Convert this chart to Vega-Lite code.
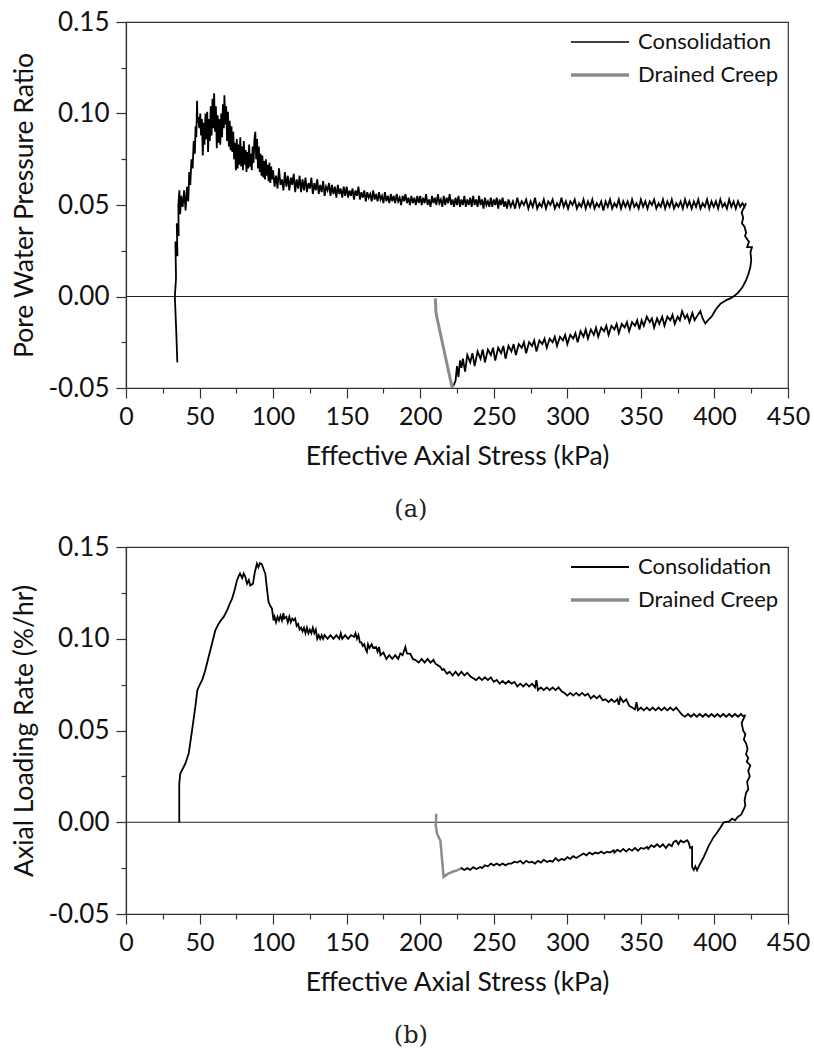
{
  "$schema": "https://vega.github.io/schema/vega-lite/v6.json",
  "padding": {"left": 11, "top": 8, "right": 0, "bottom": 0},
  "spacing": 10,
  "config": {
    "font": "Lato",
    "view": {"stroke": "#333", "strokeWidth": 1.2},
    "axis": {"grid": false, "domainColor": "#333", "tickColor": "#333", "domainWidth": 1.2, "tickWidth": 1.2, "labelColor": "#111", "titleColor": "#111", "labelFont": "Lato", "titleFont": "Lato", "titleFontWeight": "normal", "labelFlush": false, "labelOverlap": false},
    "legend": {"labelFont": "Lato", "labelFontSize": 22, "labelColor": "#111", "symbolType": "stroke", "symbolSize": 3364, "labelOffset": 27, "rowPadding": 11, "padding": 0, "orient": "top-right", "offset": 9},
    "title": {"font": "DejaVu Serif", "fontSize": 24, "fontWeight": "normal", "color": "#222", "orient": "bottom", "anchor": "middle", "frame": "bounds", "offset": 28}
  },
  "resolve": {"scale": {"color": "independent"}},
  "datasets": {
    "zero": [{"y": 0}],
    "a_cons": [
      {"x":34.9,"y":-0.036},{"x":34.2,"y":-0.02},{"x":33.5,"y":-0.006},{"x":33.2,"y":0.0},{"x":34,"y":0.01},{"x":33.6,"y":0.03},{"x":35,"y":0.022},{"x":34.5,"y":0.04},{"x":35.8,"y":0.033},{"x":35.6,"y":0.05},{"x":36.3,"y":0.058},{"x":36.8,"y":0.045},{"x":37.5,"y":0.055},{"x":38.5,"y":0.049},{"x":39.5,"y":0.058},{"x":40.5,"y":0.047},{"x":41.5,"y":0.06},{"x":42.3,"y":0.052},{"x":43,"y":0.068},{"x":43.7,"y":0.061},{"x":44.5,"y":0.075},{"x":45.3,"y":0.07},{"x":46,"y":0.085},{"x":46.8,"y":0.078},{"x":47.3,"y":0.093},{"x":47.8,"y":0.087},{"x":48.3,"y":0.107},{"x":48.6,"y":0.095},{"x":49.2,"y":0.098},{"x":49.8,"y":0.092},{"x":50.5,"y":0.1},{"x":51,"y":0.088},{"x":51.6,"y":0.097},{"x":52.2,"y":0.077},{"x":52.8,"y":0.095},{"x":53.4,"y":0.083},{"x":54,"y":0.1},{"x":54.6,"y":0.086},{"x":55.2,"y":0.101},{"x":55.8,"y":0.079},{"x":56.4,"y":0.097},{"x":57,"y":0.085},{"x":57.6,"y":0.104},{"x":58.2,"y":0.088},{"x":58.8,"y":0.108},{"x":59.4,"y":0.092},{"x":59.9,"y":0.111},{"x":60.5,"y":0.09},{"x":61.1,"y":0.104},{"x":61.7,"y":0.081},{"x":62.3,"y":0.099},{"x":62.9,"y":0.084},{"x":63.5,"y":0.097},{"x":64.1,"y":0.083},{"x":64.7,"y":0.1},{"x":65.3,"y":0.087},{"x":65.9,"y":0.105},{"x":66.5,"y":0.092},{"x":66.9,"y":0.11},{"x":67.5,"y":0.094},{"x":68.1,"y":0.104},{"x":68.7,"y":0.085},{"x":69.3,"y":0.101},{"x":69.9,"y":0.082},{"x":70.5,"y":0.096},{"x":71.1,"y":0.08},{"x":71.7,"y":0.093},{"x":72.3,"y":0.079},{"x":72.9,"y":0.09},{"x":73.5,"y":0.075},{"x":74.1,"y":0.084},{"x":74.7,"y":0.069},{"x":75.3,"y":0.086},{"x":75.9,"y":0.07},{"x":76.5,"y":0.083},{"x":77.1,"y":0.072},{"x":77.7,"y":0.087},{"x":78.3,"y":0.071},{"x":78.9,"y":0.082},{"x":79.5,"y":0.069},{"x":80.1,"y":0.085},{"x":80.7,"y":0.072},{"x":81.3,"y":0.08},{"x":81.9,"y":0.068},{"x":82.5,"y":0.079},{"x":83.1,"y":0.07},{"x":83.7,"y":0.083},{"x":84.3,"y":0.071},{"x":84.9,"y":0.078},{"x":85.5,"y":0.069},{"x":86.1,"y":0.082},{"x":86.7,"y":0.073},{"x":87.3,"y":0.086},{"x":87.9,"y":0.09},{"x":88.5,"y":0.075},{"x":89.1,"y":0.086},{"x":89.7,"y":0.07},{"x":90.3,"y":0.082},{"x":90.9,"y":0.068},{"x":91.5,"y":0.078},{"x":92.1,"y":0.066},{"x":92.7,"y":0.077},{"x":93.3,"y":0.065},{"x":93.9,"y":0.074},{"x":94.5,"y":0.064},{"x":95.1,"y":0.075},{"x":95.7,"y":0.066},{"x":96.3,"y":0.072},{"x":96.9,"y":0.063},{"x":97.5,"y":0.073},{"x":98.1,"y":0.062},{"x":98.7,"y":0.071},{"x":99.3,"y":0.064},
      {"x":100,"y":0.069},{"x":101,"y":0.06},{"x":102,"y":0.066},{"x":103,"y":0.059},{"x":104,"y":0.07},{"x":105,"y":0.061},{"x":106,"y":0.064},{"x":107,"y":0.058},{"x":108,"y":0.068},{"x":109,"y":0.06},{"x":110,"y":0.066},{"x":111,"y":0.058},{"x":112,"y":0.065},{"x":113,"y":0.061},{"x":114,"y":0.067},{"x":115,"y":0.057},{"x":116,"y":0.064},{"x":117,"y":0.059},{"x":118,"y":0.066},{"x":119,"y":0.057},
      {"x":120,"y":0.064},{"x":121,"y":0.058},{"x":122,"y":0.065},{"x":123,"y":0.057},{"x":124,"y":0.062},{"x":125,"y":0.059},{"x":126,"y":0.065},{"x":127,"y":0.056},{"x":128,"y":0.062},{"x":129,"y":0.058},{"x":130,"y":0.064},{"x":131,"y":0.056},{"x":132,"y":0.061},{"x":133,"y":0.057},{"x":134,"y":0.063},{"x":135,"y":0.055},{"x":136,"y":0.06},{"x":137,"y":0.058},{"x":138,"y":0.062},{"x":139,"y":0.055},{"x":140,"y":0.061},{"x":141,"y":0.056},{"x":142,"y":0.06},{"x":143,"y":0.054},{"x":144,"y":0.061},{"x":145,"y":0.056},{"x":146,"y":0.059},{"x":147,"y":0.054},{"x":148,"y":0.06},{"x":149,"y":0.055},
      {"x":150,"y":0.06},{"x":151,"y":0.054},{"x":152,"y":0.058},{"x":153,"y":0.055},{"x":154,"y":0.059},{"x":155,"y":0.053},{"x":156,"y":0.058},{"x":157,"y":0.055},{"x":158,"y":0.06},{"x":159,"y":0.053},{"x":160,"y":0.057},{"x":161,"y":0.054},{"x":162,"y":0.058},{"x":163,"y":0.052},{"x":164,"y":0.057},{"x":165,"y":0.054},{"x":166,"y":0.056},{"x":167,"y":0.052},{"x":168,"y":0.058},{"x":169,"y":0.053},{"x":170,"y":0.056},{"x":171,"y":0.052},{"x":172,"y":0.057},{"x":173,"y":0.053},{"x":174,"y":0.055},{"x":175,"y":0.051},{"x":176,"y":0.057},{"x":177,"y":0.052},{"x":178,"y":0.055},{"x":179,"y":0.051},{"x":180,"y":0.056},{"x":181,"y":0.052},{"x":182,"y":0.055},{"x":183,"y":0.051},{"x":184,"y":0.056},{"x":185,"y":0.052},{"x":186,"y":0.054},{"x":187,"y":0.05},{"x":188,"y":0.055},{"x":189,"y":0.052},{"x":190,"y":0.056},{"x":191,"y":0.051},{"x":192,"y":0.054},{"x":193,"y":0.05},{"x":194,"y":0.055},{"x":195,"y":0.051},{"x":196,"y":0.054},{"x":197,"y":0.05},{"x":198,"y":0.055},{"x":199,"y":0.051},
      {"x":200,"y":0.055},{"x":201,"y":0.05},{"x":202,"y":0.054},{"x":203,"y":0.051},{"x":204,"y":0.056},{"x":205,"y":0.05},{"x":206,"y":0.053},{"x":207,"y":0.049},{"x":208,"y":0.055},{"x":209,"y":0.051},{"x":210,"y":0.054},{"x":211,"y":0.05},{"x":212,"y":0.056},{"x":213,"y":0.051},{"x":214,"y":0.053},{"x":215,"y":0.049},{"x":216,"y":0.055},{"x":217,"y":0.05},{"x":218,"y":0.054},{"x":219,"y":0.051},{"x":220,"y":0.056},{"x":221,"y":0.05},{"x":222,"y":0.053},{"x":223,"y":0.049},{"x":224,"y":0.054},{"x":225,"y":0.05},{"x":226,"y":0.055},{"x":227,"y":0.049},{"x":228,"y":0.053},{"x":229,"y":0.05},{"x":230,"y":0.055},{"x":231,"y":0.049},{"x":232,"y":0.053},{"x":233,"y":0.05},{"x":234,"y":0.054},{"x":235,"y":0.049},{"x":236,"y":0.055},{"x":237,"y":0.05},{"x":238,"y":0.053},{"x":239,"y":0.049},{"x":240,"y":0.055},{"x":241,"y":0.05},{"x":242,"y":0.053},{"x":243,"y":0.048},{"x":244,"y":0.054},{"x":245,"y":0.05},{"x":246,"y":0.052},{"x":247,"y":0.049},{"x":248,"y":0.054},{"x":249,"y":0.049},{"x":250,"y":0.053},{"x":251,"y":0.05},{"x":252,"y":0.054},{"x":253,"y":0.048},{"x":254,"y":0.053},{"x":255,"y":0.05},{"x":256,"y":0.054},{"x":257,"y":0.049},{"x":258,"y":0.052},{"x":259,"y":0.048},
      {"x":260,"y":0.053},{"x":261.5,"y":0.049},{"x":263,"y":0.052},{"x":264.5,"y":0.048},{"x":266,"y":0.054},{"x":267.5,"y":0.049},{"x":269,"y":0.052},{"x":270.5,"y":0.05},{"x":272,"y":0.053},{"x":273.5,"y":0.048},{"x":275,"y":0.052},{"x":276.5,"y":0.049},{"x":278,"y":0.054},{"x":279.5,"y":0.048},{"x":281,"y":0.051},{"x":282.5,"y":0.049},{"x":284,"y":0.053},{"x":285.5,"y":0.048},{"x":287,"y":0.052},{"x":288.5,"y":0.05},{"x":290,"y":0.053},{"x":291.5,"y":0.048},{"x":293,"y":0.051},{"x":294.5,"y":0.049},{"x":296,"y":0.054},{"x":297.5,"y":0.049},{"x":299,"y":0.052},{"x":300.5,"y":0.048},{"x":302,"y":0.052},{"x":303.5,"y":0.05},{"x":305,"y":0.053},{"x":306.5,"y":0.048},{"x":308,"y":0.051},{"x":309.5,"y":0.049},{"x":311,"y":0.053},{"x":312.5,"y":0.048},{"x":314,"y":0.052},{"x":315.5,"y":0.049},{"x":317,"y":0.053},{"x":318.5,"y":0.048},{"x":320,"y":0.051},{"x":321.5,"y":0.049},{"x":323,"y":0.052},{"x":324.5,"y":0.047},{"x":326,"y":0.052},{"x":327.5,"y":0.049},{"x":329,"y":0.053},{"x":330.5,"y":0.048},{"x":332,"y":0.051},{"x":333.5,"y":0.049},{"x":335,"y":0.053},{"x":336.5,"y":0.048},{"x":338,"y":0.052},{"x":339.5,"y":0.049},{"x":341,"y":0.052},{"x":342.5,"y":0.048},{"x":344,"y":0.053},{"x":345.5,"y":0.049},{"x":347,"y":0.051},{"x":348.5,"y":0.048},{"x":350,"y":0.053},{"x":351.5,"y":0.049},{"x":353,"y":0.052},{"x":354.5,"y":0.048},{"x":356,"y":0.052},{"x":357.5,"y":0.05},{"x":359,"y":0.053},{"x":360.5,"y":0.048},{"x":362,"y":0.051},{"x":363.5,"y":0.049},{"x":365,"y":0.053},{"x":366.5,"y":0.048},{"x":368,"y":0.052},{"x":369.5,"y":0.049},{"x":371,"y":0.053},{"x":372.5,"y":0.048},{"x":374,"y":0.051},{"x":375.5,"y":0.049},{"x":377,"y":0.052},{"x":378.5,"y":0.048},{"x":380,"y":0.053},{"x":381.5,"y":0.049},{"x":383,"y":0.052},{"x":384.5,"y":0.048},{"x":386,"y":0.052},{"x":387.5,"y":0.049},{"x":389,"y":0.053},{"x":390.5,"y":0.048},{"x":392,"y":0.051},{"x":393.5,"y":0.049},{"x":395,"y":0.053},{"x":396.5,"y":0.048},{"x":398,"y":0.052},{"x":399.5,"y":0.049},{"x":401,"y":0.052},{"x":402.5,"y":0.048},{"x":404,"y":0.053},{"x":405.5,"y":0.049},{"x":407,"y":0.051},{"x":408.5,"y":0.048},{"x":410,"y":0.053},{"x":411.5,"y":0.049},{"x":413,"y":0.052},{"x":414.5,"y":0.048},{"x":416,"y":0.052},{"x":417.5,"y":0.049},{"x":419,"y":0.051},{"x":420.5,"y":0.049},{"x":421.5,"y":0.051},
      {"x":418.5,"y":0.046},{"x":419.5,"y":0.043},{"x":418.7,"y":0.04},{"x":420.5,"y":0.038},{"x":421.5,"y":0.035},{"x":420.8,"y":0.033},{"x":422.5,"y":0.031},{"x":423.5,"y":0.03},{"x":422.2,"y":0.027},{"x":425.5,"y":0.027},{"x":424.5,"y":0.024},{"x":425,"y":0.02},{"x":424.4,"y":0.016},{"x":423,"y":0.012},{"x":421.5,"y":0.009},{"x":419,"y":0.005},{"x":416,"y":0.002},{"x":413,"y":0.0},{"x":410.8,"y":-0.001},{"x":408,"y":-0.002},{"x":404,"y":-0.004},{"x":401,"y":-0.007},{"x":398,"y":-0.011},{"x":395.5,"y":-0.013},{"x":393.8,"y":-0.0148},{"x":392,"y":-0.012},{"x":390.4,"y":-0.008},
      {"x":388,"y":-0.011},{"x":386.5,"y":-0.013},{"x":385,"y":-0.009},{"x":383,"y":-0.014},{"x":381.5,"y":-0.01},{"x":380,"y":-0.012},{"x":378,"y":-0.008},{"x":376.5,"y":-0.013},{"x":375,"y":-0.011},{"x":373,"y":-0.015},{"x":371.5,"y":-0.01},{"x":370,"y":-0.013},{"x":368,"y":-0.011},{"x":366,"y":-0.016},{"x":364.5,"y":-0.011},{"x":362.5,"y":-0.015},{"x":361,"y":-0.012},{"x":359,"y":-0.017},{"x":357.5,"y":-0.012},{"x":356,"y":-0.014},{"x":354,"y":-0.011},{"x":352,"y":-0.016},{"x":350.5,"y":-0.013},{"x":349,"y":-0.018},{"x":347.5,"y":-0.013},{"x":346,"y":-0.016},{"x":344,"y":-0.014},{"x":342,"y":-0.019},{"x":340.5,"y":-0.014},{"x":339,"y":-0.017},{"x":337,"y":-0.015},{"x":335,"y":-0.02},{"x":333.5,"y":-0.015},{"x":332,"y":-0.018},{"x":330,"y":-0.016},{"x":328,"y":-0.021},{"x":326.5,"y":-0.016},{"x":325,"y":-0.019},{"x":323,"y":-0.017},{"x":321,"y":-0.022},{"x":319.5,"y":-0.017},{"x":318,"y":-0.021},{"x":316,"y":-0.018},{"x":314,"y":-0.023},{"x":312.5,"y":-0.018},{"x":311,"y":-0.022},{"x":309,"y":-0.019},{"x":307,"y":-0.025},{"x":305.5,"y":-0.02},{"x":304,"y":-0.023},{"x":302,"y":-0.021},{"x":300,"y":-0.026},{"x":298.5,"y":-0.021},{"x":297,"y":-0.024},{"x":295,"y":-0.022},{"x":293,"y":-0.027},{"x":291.5,"y":-0.022},{"x":290,"y":-0.025},{"x":288,"y":-0.023},{"x":286,"y":-0.028},{"x":284.5,"y":-0.023},{"x":283,"y":-0.026},{"x":281,"y":-0.024},{"x":279,"y":-0.03},{"x":277.5,"y":-0.024},{"x":276,"y":-0.027},{"x":274,"y":-0.025},{"x":272,"y":-0.031},{"x":270.5,"y":-0.025},{"x":269,"y":-0.028},{"x":267,"y":-0.026},{"x":265,"y":-0.032},{"x":263.5,"y":-0.026},{"x":262,"y":-0.03},{"x":260,"y":-0.027},{"x":258,"y":-0.034},{"x":256.5,"y":-0.027},{"x":255,"y":-0.031},{"x":253,"y":-0.028},{"x":251,"y":-0.035},{"x":249.5,"y":-0.028},{"x":248,"y":-0.032},{"x":246,"y":-0.029},{"x":244,"y":-0.036},{"x":242.5,"y":-0.029},{"x":241,"y":-0.034},{"x":239,"y":-0.03},{"x":237,"y":-0.038},{"x":235.5,"y":-0.031},{"x":234,"y":-0.036},{"x":232,"y":-0.032},{"x":230.5,"y":-0.041},{"x":229,"y":-0.034},{"x":228,"y":-0.039},{"x":227,"y":-0.035},{"x":226,"y":-0.044},{"x":225,"y":-0.038},{"x":224,"y":-0.046},{"x":222.5,"y":-0.049}
    ],
    "a_creep": [
      {"x":210.3,"y":-0.001},{"x":210.6,"y":-0.008},{"x":211.5,"y":-0.012},{"x":221.6,"y":-0.0495},{"x":222.5,"y":-0.048}
    ],
    "b_cons": [
      {"x":36.2,"y":0},{"x":36.2,"y":0.021},{"x":36.9,"y":0.0265},{"x":38.5,"y":0.029},{"x":40.3,"y":0.0319},{"x":42.6,"y":0.0374},{"x":44.9,"y":0.05},{"x":47.1,"y":0.0628},{"x":48.5,"y":0.072},{"x":49.4,"y":0.0737},{"x":50.5,"y":0.0755},{"x":52,"y":0.078},{"x":53.9,"y":0.0828},{"x":55.5,"y":0.088},{"x":57.3,"y":0.0937},{"x":59,"y":0.099},{"x":60.7,"y":0.1046},{"x":63,"y":0.1082},{"x":64.5,"y":0.11},{"x":66.4,"y":0.1119},{"x":68.7,"y":0.1155},{"x":70.5,"y":0.119},{"x":72.1,"y":0.1218},{"x":74,"y":0.127},{"x":75.4,"y":0.1318},{"x":76.5,"y":0.134},{"x":77.5,"y":0.1355},{"x":79,"y":0.133},{"x":80,"y":0.1355},{"x":81,"y":0.134},{"x":82.3,"y":0.13},{"x":83.5,"y":0.132},{"x":84.5,"y":0.129},{"x":86.3,"y":0.13},{"x":87.5,"y":0.136},{"x":89,"y":0.1409},{"x":90,"y":0.139},{"x":91,"y":0.1412},{"x":92.4,"y":0.1405},{"x":93.5,"y":0.138},{"x":94.7,"y":0.1355},{"x":96,"y":0.126},{"x":96.9,"y":0.12},{"x":98,"y":0.118},{"x":99.2,"y":0.1164},{"x":100.3,"y":0.11},{"x":101,"y":0.112},{"x":102,"y":0.109},{"x":103,"y":0.112},{"x":104,"y":0.11},{"x":105,"y":0.1125},{"x":106,"y":0.11},{"x":107,"y":0.114},{"x":107.5,"y":0.111},{"x":109,"y":0.112},{"x":110,"y":0.109},{"x":111,"y":0.112},{"x":112,"y":0.109},{"x":113,"y":0.111},{"x":114,"y":0.11},{"x":115,"y":0.111},{"x":116,"y":0.107},{"x":117,"y":0.108},{"x":118,"y":0.105},{"x":119,"y":0.106},{"x":120,"y":0.104},{"x":121,"y":0.106},{"x":122,"y":0.103},{"x":123,"y":0.106},{"x":124,"y":0.103},{"x":125,"y":0.105},{"x":126,"y":0.103},{"x":127,"y":0.106},{"x":128,"y":0.103},{"x":129,"y":0.105},{"x":130,"y":0.1},{"x":131,"y":0.102},{"x":132,"y":0.1},{"x":133,"y":0.102},{"x":134,"y":0.1},{"x":135,"y":0.102},{"x":137,"y":0.1},{"x":139,"y":0.102},{"x":141,"y":0.1},{"x":143,"y":0.102},{"x":145,"y":0.1},{"x":146,"y":0.103},{"x":147,"y":0.1},{"x":149,"y":0.102},{"x":151,"y":0.1},{"x":153,"y":0.102},{"x":155,"y":0.101},{"x":156,"y":0.103},{"x":157,"y":0.1},{"x":158,"y":0.102},{"x":159,"y":0.098},{"x":160,"y":0.098},{"x":161,"y":0.096},{"x":162,"y":0.097},{"x":163,"y":0.094},{"x":163.8,"y":0.0928},{"x":164.5,"y":0.097},{"x":165.5,"y":0.095},{"x":167,"y":0.097},{"x":168,"y":0.095},{"x":170,"y":0.0955},{"x":171,"y":0.093},{"x":172,"y":0.0955},{"x":173,"y":0.091},{"x":175,"y":0.0925},{"x":177,"y":0.089},{"x":179,"y":0.091},{"x":181,"y":0.089},{"x":183,"y":0.091},{"x":185,"y":0.089},{"x":186.5,"y":0.092},{"x":188,"y":0.091},{"x":189.9,"y":0.0955},{"x":191,"y":0.092},{"x":193.3,"y":0.0918},{"x":195,"y":0.089},{"x":197,"y":0.0883},{"x":199,"y":0.087},{"x":201,"y":0.089},{"x":203,"y":0.087},{"x":205,"y":0.089},{"x":207,"y":0.087},{"x":209,"y":0.0885},{"x":210.3,"y":0.0864},{"x":212,"y":0.0855},{"x":213.7,"y":0.0846},{"x":215,"y":0.083},{"x":216,"y":0.0835},{"x":218.2,"y":0.0809},{"x":220,"y":0.082},{"x":222,"y":0.08},{"x":224,"y":0.082},{"x":226,"y":0.08},{"x":228,"y":0.082},{"x":230,"y":0.08},{"x":232,"y":0.0815},{"x":234,"y":0.0795},{"x":236,"y":0.0785},{"x":238,"y":0.0775},{"x":240,"y":0.079},{"x":242,"y":0.0775},{"x":244,"y":0.079},{"x":246,"y":0.0775},{"x":248,"y":0.079},{"x":250,"y":0.0765},{"x":252,"y":0.0775},{"x":254,"y":0.0755},{"x":256,"y":0.077},{"x":258,"y":0.0755},{"x":260,"y":0.077},{"x":262,"y":0.0755},{"x":264,"y":0.0765},{"x":266,"y":0.074},{"x":268,"y":0.0755},{"x":270,"y":0.074},{"x":272,"y":0.0755},{"x":274,"y":0.074},{"x":276,"y":0.0755},{"x":278,"y":0.0735},{"x":279,"y":0.0775},{"x":280,"y":0.072},{"x":282,"y":0.0735},{"x":284,"y":0.072},{"x":286,"y":0.0735},{"x":288,"y":0.072},{"x":290,"y":0.0735},{"x":292,"y":0.072},{"x":294,"y":0.0735},{"x":296,"y":0.0715},{"x":298,"y":0.0705},{"x":300,"y":0.069},{"x":302,"y":0.0705},{"x":304,"y":0.069},{"x":306,"y":0.0705},{"x":308,"y":0.069},{"x":310,"y":0.0705},{"x":312,"y":0.069},{"x":314,"y":0.07},{"x":316,"y":0.0675},{"x":318,"y":0.069},{"x":320,"y":0.0675},{"x":322,"y":0.069},{"x":324,"y":0.0665},{"x":326,"y":0.067},{"x":328,"y":0.0655},{"x":330,"y":0.067},{"x":332,"y":0.0655},{"x":334,"y":0.067},{"x":335,"y":0.064},{"x":336,"y":0.068},{"x":338,"y":0.0655},{"x":340,"y":0.067},{"x":342,"y":0.0635},{"x":344,"y":0.0625},{"x":346,"y":0.0615},{"x":347,"y":0.0655},{"x":348,"y":0.061},{"x":350,"y":0.0625},{"x":352,"y":0.061},{"x":354,"y":0.0625},{"x":356,"y":0.061},{"x":358,"y":0.0625},{"x":360,"y":0.061},{"x":362,"y":0.0625},{"x":364,"y":0.061},{"x":366,"y":0.0625},{"x":368,"y":0.061},{"x":370,"y":0.0625},{"x":372,"y":0.061},{"x":374,"y":0.0625},{"x":376,"y":0.0605},{"x":378,"y":0.0585},{"x":380,"y":0.0575},{"x":382,"y":0.059},{"x":384,"y":0.0575},{"x":386,"y":0.059},{"x":388,"y":0.0575},{"x":390,"y":0.059},{"x":392,"y":0.0575},{"x":394,"y":0.059},{"x":396,"y":0.0575},{"x":398,"y":0.059},{"x":400,"y":0.0575},{"x":402,"y":0.059},{"x":404,"y":0.0575},{"x":406,"y":0.059},{"x":408,"y":0.0575},{"x":410,"y":0.059},{"x":412,"y":0.0575},{"x":414,"y":0.059},{"x":416,"y":0.0575},{"x":418,"y":0.059},{"x":420,"y":0.0575},{"x":421,"y":0.0585},
      {"x":419.5,"y":0.056},{"x":418.5,"y":0.054},{"x":419.5,"y":0.05},{"x":421,"y":0.048},{"x":420,"y":0.045},{"x":421.5,"y":0.043},{"x":422.5,"y":0.04},{"x":421.5,"y":0.037},{"x":423,"y":0.035},{"x":422,"y":0.033},{"x":424.4,"y":0.031},{"x":423,"y":0.028},{"x":424,"y":0.025},{"x":422.2,"y":0.022},{"x":423,"y":0.018},{"x":421.5,"y":0.016},{"x":420.5,"y":0.012},{"x":421,"y":0.009},{"x":419.9,"y":0.007},{"x":418,"y":0.004},{"x":416,"y":0.003},{"x":414,"y":0.001},{"x":412,"y":0.002},{"x":410,"y":0.0005},{"x":406.3,"y":0.0},{"x":404,"y":-0.003},{"x":401.5,"y":-0.006},{"x":399.5,"y":-0.008},{"x":396,"y":-0.013},{"x":392.7,"y":-0.019},{"x":390,"y":-0.023},{"x":388.2,"y":-0.0262},{"x":387,"y":-0.024},{"x":386,"y":-0.026},{"x":384.8,"y":-0.0244},{"x":384.8,"y":-0.0135},{"x":383.5,"y":-0.014},{"x":382.5,"y":-0.011},{"x":381.4,"y":-0.0098},{"x":379,"y":-0.011},{"x":377,"y":-0.01},{"x":375.5,"y":-0.012},{"x":374,"y":-0.01},{"x":372.3,"y":-0.0107},{"x":371,"y":-0.013},{"x":369,"y":-0.012},{"x":367,"y":-0.014},{"x":365,"y":-0.012},{"x":363,"y":-0.0135},{"x":361,"y":-0.012},{"x":359,"y":-0.0135},{"x":357,"y":-0.0125},{"x":355,"y":-0.0145},{"x":354.2,"y":-0.0135},{"x":352,"y":-0.0145},{"x":350,"y":-0.014},{"x":348,"y":-0.0155},{"x":346,"y":-0.014},{"x":344,"y":-0.0155},{"x":342,"y":-0.0145},{"x":340,"y":-0.016},{"x":338,"y":-0.0145},{"x":336,"y":-0.016},{"x":334,"y":-0.015},{"x":332,"y":-0.0165},{"x":331.5,"y":-0.0153},{"x":329,"y":-0.0165},{"x":327,"y":-0.016},{"x":325,"y":-0.017},{"x":323,"y":-0.016},{"x":321,"y":-0.017},{"x":319,"y":-0.0165},{"x":317,"y":-0.0175},{"x":315,"y":-0.0165},{"x":313,"y":-0.018},{"x":311,"y":-0.017},{"x":308.8,"y":-0.0181},{"x":306,"y":-0.0195},{"x":304,"y":-0.0185},{"x":302,"y":-0.02},{"x":300,"y":-0.019},{"x":298,"y":-0.0205},{"x":296,"y":-0.02},{"x":294,"y":-0.021},{"x":292,"y":-0.0195},{"x":290,"y":-0.0215},{"x":288,"y":-0.021},{"x":286.2,"y":-0.0217},{"x":284,"y":-0.0205},{"x":282,"y":-0.022},{"x":280,"y":-0.021},{"x":278,"y":-0.0225},{"x":276,"y":-0.0215},{"x":274,"y":-0.022},{"x":272,"y":-0.021},{"x":270,"y":-0.0225},{"x":268,"y":-0.021},{"x":266,"y":-0.022},{"x":264,"y":-0.0215},{"x":262,"y":-0.0225},{"x":260,"y":-0.0225},{"x":258,"y":-0.0235},{"x":256,"y":-0.0225},{"x":254,"y":-0.0235},{"x":252,"y":-0.0225},{"x":250,"y":-0.0235},{"x":248,"y":-0.0225},{"x":246,"y":-0.024},{"x":244,"y":-0.0235},{"x":242,"y":-0.025},{"x":240.9,"y":-0.0244},{"x":238,"y":-0.0255},{"x":236,"y":-0.0245},{"x":234,"y":-0.026},{"x":232,"y":-0.025},{"x":230,"y":-0.026},{"x":228,"y":-0.025},{"x":227.3,"y":-0.0253}
    ],
    "b_creep": [
      {"x":210.9,"y":0.0046},{"x":210.6,"y":-0.002},{"x":211.4,"y":-0.006},{"x":213,"y":-0.009},{"x":213.7,"y":-0.01},{"x":215.9,"y":-0.0298},{"x":219,"y":-0.028},{"x":222,"y":-0.027},{"x":225,"y":-0.0262},{"x":227.3,"y":-0.0253}
    ]
  },
  "vconcat": [
    {
      "title": {"text": "(a)"},
      "width": 662,
      "height": 366,
      "encoding": {
        "x": {"field": "x", "type": "quantitative", "scale": {"domain": [0, 450], "nice": false, "zero": false},
          "title": "Effective Axial Stress (kPa)",
          "axis": {"values": [0,25,50,75,100,125,150,175,200,225,250,275,300,325,350,375,400,425,450], "labelExpr": "datum.value % 50 == 0 ? datum.label : ''", "tickSize": {"condition": {"test": "datum.value % 50 == 0", "value": 10}, "value": 5}, "labelFontSize": 25, "titleFontSize": 26.5, "labelPadding": 6, "titlePadding": 14}},
        "y": {"field": "y", "type": "quantitative", "scale": {"domain": [-0.05, 0.15], "nice": false, "zero": false},
          "title": "Pore Water Pressure Ratio",
          "axis": {"values": [-0.05,-0.025,0,0.025,0.05,0.075,0.1,0.125,0.15], "labelExpr": "abs(round(datum.value*40)) % 2 == 0 ? replace(format(datum.value, '.2f'), '\u2212', '-') : ''", "tickSize": {"condition": {"test": "abs(round(datum.value*40)) % 2 == 0", "value": 10}, "value": 5}, "labelFontSize": 26, "titleFontSize": 26.5, "labelPadding": 7, "titlePadding": 9}}
      },
      "layer": [
        {"data": {"name": "zero"}, "mark": {"type": "rule", "color": "#222", "strokeWidth": 1.2}, "encoding": {"x": null}},
        {"data": {"name": "a_cons"}, "mark": {"type": "line", "strokeWidth": 1.8, "clip": true},
          "encoding": {"order": {"value": null}, "color": {"datum": "Consolidation", "scale": {"domain": ["Consolidation", "Drained Creep"], "range": ["#000000", "#8c8c8c"]}, "legend": {"title": null, "encode": {"symbols": {"update": {"strokeWidth": {"signal": "datum.value == 'Drained Creep' ? 3.5 : 1.3"}}}}}}}},
        {"data": {"name": "a_creep"}, "mark": {"type": "line", "strokeWidth": 3, "clip": true},
          "encoding": {"order": {"value": null}, "color": {"datum": "Drained Creep"}}}
      ]
    },
    {
      "title": {"text": "(b)"},
      "width": 662,
      "height": 367,
      "encoding": {
        "x": {"field": "x", "type": "quantitative", "scale": {"domain": [0, 450], "nice": false, "zero": false},
          "title": "Effective Axial Stress (kPa)",
          "axis": {"values": [0,25,50,75,100,125,150,175,200,225,250,275,300,325,350,375,400,425,450], "labelExpr": "datum.value % 50 == 0 ? datum.label : ''", "tickSize": {"condition": {"test": "datum.value % 50 == 0", "value": 10}, "value": 5}, "labelFontSize": 25, "titleFontSize": 26.5, "labelPadding": 6, "titlePadding": 14}},
        "y": {"field": "y", "type": "quantitative", "scale": {"domain": [-0.05, 0.15], "nice": false, "zero": false},
          "title": "Axial Loading Rate (%/hr)",
          "axis": {"values": [-0.05,-0.025,0,0.025,0.05,0.075,0.1,0.125,0.15], "labelExpr": "abs(round(datum.value*40)) % 2 == 0 ? replace(format(datum.value, '.2f'), '\u2212', '-') : ''", "tickSize": {"condition": {"test": "abs(round(datum.value*40)) % 2 == 0", "value": 10}, "value": 5}, "labelFontSize": 26, "titleFontSize": 26.5, "labelPadding": 7, "titlePadding": 9}}
      },
      "layer": [
        {"data": {"name": "zero"}, "mark": {"type": "rule", "color": "#222", "strokeWidth": 1.2}, "encoding": {"x": null}},
        {"data": {"name": "b_cons"}, "mark": {"type": "line", "strokeWidth": 1.8, "clip": true},
          "encoding": {"order": {"value": null}, "color": {"datum": "Consolidation", "scale": {"domain": ["Consolidation", "Drained Creep"], "range": ["#000000", "#8c8c8c"]}, "legend": {"title": null, "encode": {"symbols": {"update": {"strokeWidth": {"signal": "datum.value == 'Drained Creep' ? 3.5 : 2"}}}}}}}},
        {"data": {"name": "b_creep"}, "mark": {"type": "line", "strokeWidth": 2.5, "clip": true},
          "encoding": {"order": {"value": null}, "color": {"datum": "Drained Creep"}}}
      ]
    }
  ]
}
